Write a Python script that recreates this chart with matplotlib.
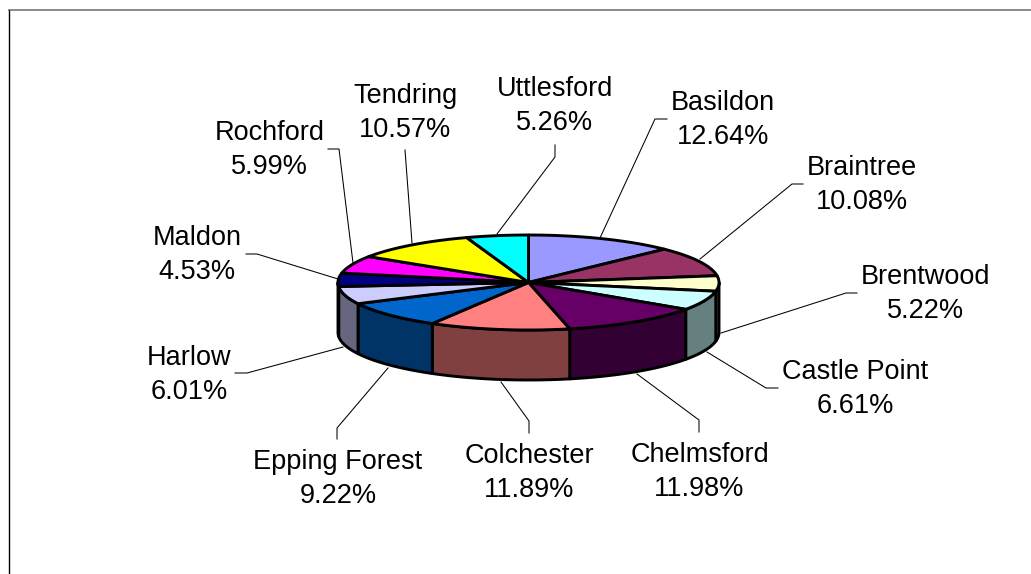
import numpy as np
import matplotlib
matplotlib.use("Agg")
import matplotlib.pyplot as plt
from matplotlib.patches import Polygon

names = ["Basildon", "Braintree", "Brentwood", "Castle Point", "Chelmsford", "Colchester",
         "Epping Forest", "Harlow", "Maldon", "Rochford", "Tendring", "Uttlesford"]
shares = [12.64, 10.08, 5.22, 6.61, 11.98, 11.89, 9.22, 6.01, 4.53, 5.99, 10.57, 5.26]
top_colors = ["#9999FF", "#993366", "#FFFFCC", "#CCFFFF", "#660066", "#FF8080",
              "#0066CC", "#CCCCFF", "#000080", "#FF00FF", "#FFFF00", "#00FFFF"]
side_colors = ["#4D4D80", "#4D1A33", "#808066", "#668080", "#330033", "#804040",
               "#003366", "#666680", "#000040", "#800080", "#808000", "#008080"]

# label centres and leader lines, in pixels of the picture
label_pos = [(723, 120), (862, 185), (925.5, 294), (855.5, 389), (699.5, 472), (529, 473),
             (338, 479), (189, 375), (197, 255), (269.5, 150), (405, 113), (555, 106)]
leaders = [
    [(600, 238), (655, 119), (667, 119)],
    [(700, 259), (792, 184), (803, 184)],
    [(721, 333), (846, 293), (857, 293)],
    [(707, 352), (766, 388), (778, 388)],
    [(637, 374), (699, 420), (699, 432)],
    [(501, 382), (529, 421), (529, 433)],
    [(388, 368), (337, 428), (337, 439)],
    [(343, 347), (247, 373), (235, 373)],
    [(338, 279), (257, 254), (246, 254)],
    [(353, 263), (339, 149), (328, 149)],
    [(412, 243), (405, 150)],
    [(497, 234), (555, 157), (555, 145)],
]

cx, cy = 528.5, 282.5
rx, ry = 190.5, 47.5
depth = 50
edge_w = 2.1

plt.rcParams["font.family"] = "Liberation Sans"

fig = plt.figure(figsize=(10.31, 5.74), dpi=100)
ax = fig.add_axes([0, 0, 1, 1])
ax.set_xlim(0, 1031)
ax.set_ylim(574, 0)
ax.axis("off")

# frame, only top and left are visible
ax.plot([8, 1031], [10, 10], color="#808080", lw=1.3, solid_capstyle="butt")
ax.plot([8.5, 8.5], [10, 574], color="black", lw=1.0, solid_capstyle="butt")


def rim(a0, a1, dy=0.0):
    t = np.radians(np.linspace(a0, a1, max(int(abs(a1 - a0)) * 2, 2)))
    return np.column_stack([cx + rx * np.sin(t), cy - ry * np.cos(t) + dy])


edges = np.concatenate([[0], np.cumsum(shares)]) * 360 / sum(shares)

# leader lines go under the pie
for pts in leaders:
    xs, ys = zip(*pts)
    ax.plot(xs, ys, color="black", lw=0.75, zorder=1)

# front wall, only the part between 90 and 270 degrees shows
for i in range(len(shares)):
    a0, a1 = max(edges[i], 90), min(edges[i + 1], 270)
    if a1 <= a0:
        continue
    wall = np.vstack([rim(a0, a1), rim(a0, a1, depth)[::-1]])
    ax.add_patch(Polygon(wall, closed=True, facecolor=side_colors[i], edgecolor="black",
                         lw=edge_w, joinstyle="round", zorder=2))

# top face
for i in range(len(shares)):
    top = np.vstack([[cx, cy], rim(edges[i], edges[i + 1])])
    ax.add_patch(Polygon(top, closed=True, facecolor=top_colors[i], edgecolor="black",
                         lw=edge_w, joinstyle="round", zorder=3))

for name, v, (x, y) in zip(names, shares, label_pos):
    ax.text(x, y, f"{name}\n{v:.2f}%", ha="center", va="center", fontsize=19.5,
            linespacing=1.37, color="black", zorder=4)

fig.savefig("out.png", dpi=100)
